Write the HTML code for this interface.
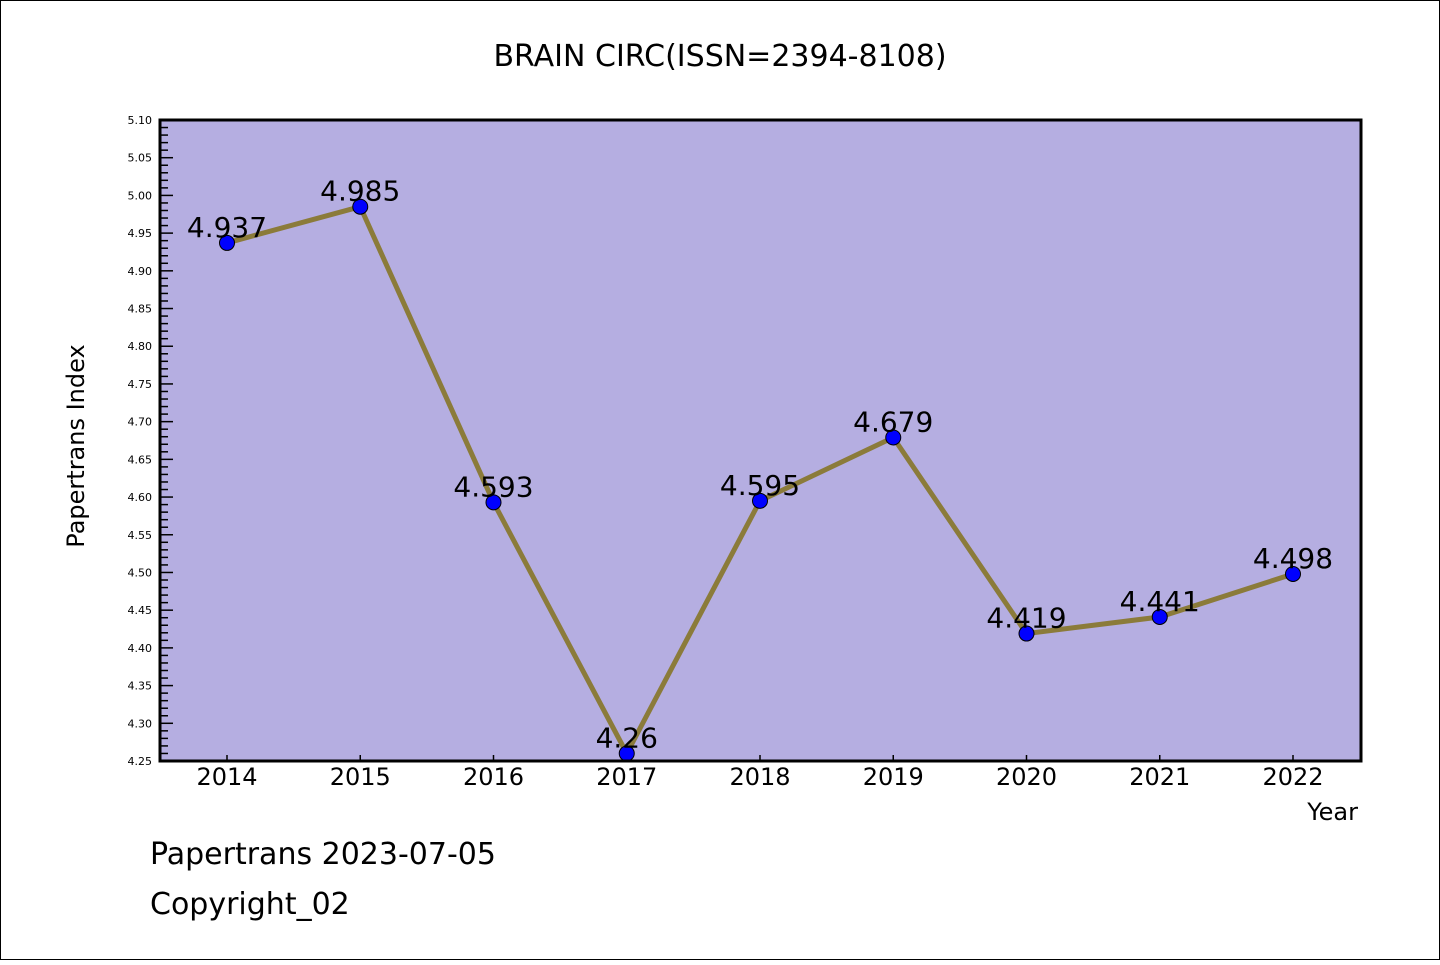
<!DOCTYPE html>
<html><head><meta charset="utf-8"><style>
body{margin:0;background:#fff}
svg text{font-family:"DejaVu Sans","Liberation Sans",sans-serif}
</style></head><body>
<svg width="1440" height="960">
<rect x="0.5" y="0.5" width="1439" height="959" fill="#fff" stroke="#000"/>
<text x="720" y="66" text-anchor="middle" font-size="30">BRAIN CIRC(ISSN=2394-8108)</text>
<rect x="160" y="120" width="1201" height="641" fill="#b5aee1"/>
<g id="axes"></g>
<g id="series"></g>
<rect x="160" y="120" width="1201" height="641" fill="none" stroke="#000" stroke-width="3"/>
<text transform="translate(84,446) rotate(-90)" text-anchor="middle" font-size="24">Papertrans Index</text>
<text x="1358" y="820" text-anchor="end" font-size="24">Year</text>
<text x="150" y="864" font-size="30">Papertrans 2023-07-05</text>
<text x="150" y="914" font-size="30">Copyright_02</text>
</svg>
<script>
const years=[2014,2015,2016,2017,2018,2019,2020,2021,2022];
const values=[4.937,4.985,4.593,4.26,4.595,4.679,4.419,4.441,4.498];
const valueLabels=["4.937","4.985","4.593","4.26","4.595","4.679","4.419","4.441","4.498"];
const yTicks=["4.25","4.30","4.35","4.40","4.45","4.50","4.55","4.60","4.65","4.70","4.75","4.80","4.85","4.90","4.95","5.00","5.05","5.10"];
const yMin=4.25,yMax=5.10;
const NS="http://www.w3.org/2000/svg";
function X(i){return 227+i*(1293-227)/(years.length-1);}
function Y(v){return 761-(v-yMin)/(yMax-yMin)*641;}
function mk(t,a,p){const e=document.createElementNS(NS,t);for(const k in a)e.setAttribute(k,a[k]);p.appendChild(e);return e;}
const ax=document.getElementById('axes'),se=document.getElementById('series');
for(let k=0;k<=85;k++){const v=yMin+k*0.01;const y=Y(v);const major=k%5===0;
 const t=mk('line',{x1:160,x2:160+(major?13:8),y1:y,y2:y,stroke:'#000','stroke-width':1.5},ax);
 
 }
yTicks.forEach(s=>{const e=mk('text',{x:152,y:Y(parseFloat(s))+4,'text-anchor':'end','font-size':11},ax);e.textContent=s;
 
 });
years.forEach((yr,i)=>{const t=mk('line',{x1:X(i),x2:X(i),y1:761,y2:755,stroke:'#000','stroke-width':1.5},ax);
 
 
 const e=mk('text',{x:X(i),y:785,'text-anchor':'middle','font-size':24},ax);e.textContent=yr;
 
 });
const pl=mk('polyline',{points:values.map((v,i)=>X(i)+','+Y(v)).join(' '),fill:'none',stroke:'#8b7b3a','stroke-width':5,'stroke-linejoin':'round'},se);


values.forEach((v,i)=>{const c=mk('circle',{cx:X(i),cy:Y(v),r:7.5,fill:'#0000ff',stroke:'#000','stroke-width':1},se);
 
 
 const e=mk('text',{x:X(i),y:Y(v)-6,'text-anchor':'middle','font-size':28},se);e.textContent=valueLabels[i];
 
 });
</script>
</body></html>
